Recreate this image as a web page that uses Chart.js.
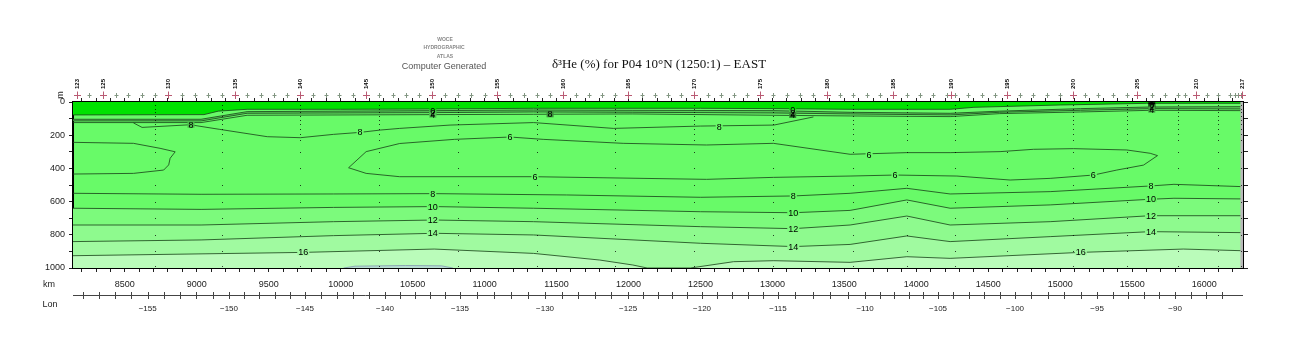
<!DOCTYPE html>
<html>
<head>
<meta charset="utf-8">
<script src="https://cdn.jsdelivr.net/npm/chart.js@4.4.1/dist/chart.umd.min.js"></script>
<style>
  html, body { margin: 0; padding: 0; background: #fff; }
</style>
</head>
<body>
<canvas id="grafico" width="1300" height="350"></canvas>
<script>
// contour lines as [distance km, depth m]
const surfLayer = [[8140,78],[9050,76],[9150,55],[9350,44],[10000,44],[10650,42],[11340,38],[12500,38],[13010,40],[13540,44],[14235,44],[14400,32],[15000,18],[15600,8],[16270,8]];
const shallow1 = [[8140,104],[9030,104],[9350,58],[10650,52],[11340,48],[12030,50],[13010,52],[13540,62],[14235,68],[14580,55],[15140,40],[15630,30],[16270,28]];
const shallow2 = [[8140,114],[9030,114],[9350,68],[10650,64],[11340,60],[12030,62],[13010,66],[13540,72],[14235,78],[14580,62],[15140,50],[15630,40],[16270,42]];
const shallow3 = [[8140,124],[9030,124],[9350,80],[10650,76],[11340,74],[12030,72],[13010,80],[13540,84],[14235,88],[14580,70],[15140,60],[15630,50],[16270,52]];
const c8top = [[8560,126],[8620,153],[8955,137],[9160,165],[9490,209],[9720,215],[9950,195],[10135,183],[10275,169],[10410,159],[10760,139],[11340,124],[11895,159],[12500,145],[13010,139],[13285,90]];
const c6west = [[8140,243],[8560,249],[8745,279],[8850,300],[8815,339],[8805,379],[8770,410],[8560,430],[8140,434]];
const c6loop = [[10055,396],[10177,299],[10410,250],[10790,225],[11177,211],[11407,225],[11963,249],[12542,259],[13007,249],[13540,315],[13934,305],[14235,305],[14582,299],[14814,285],[15092,281],[15463,289],[15625,309],[15676,323],[15579,380],[15393,410],[15231,440],[14930,460],[14652,470],[14282,446],[13854,440],[13540,446],[13007,454],[12542,466],[11339,450],[10410,450],[10177,430],[10055,396]];
const c8 = [[8140,550],[9030,556],[9950,554],[10650,552],[11570,560],[12500,574],[13145,566],[13540,550],[13934,520],[14235,554],[14930,540],[15625,506],[15790,496],[16270,510]];
const c10 = [[8140,640],[9030,647],[9950,635],[10650,630],[11340,640],[12500,661],[13145,667],[13540,653],[13934,590],[14235,640],[14930,620],[15625,586],[15790,580],[16270,584]];
const c12 = [[8140,741],[9030,741],[9950,721],[10650,711],[11340,721],[12500,751],[13145,763],[13540,741],[13934,687],[14235,741],[14930,721],[15625,685],[16270,685]];
const c14 = [[8140,841],[9030,831],[9950,805],[10650,791],[11340,801],[12500,851],[13145,871],[13540,858],[13934,807],[14235,841],[14930,811],[15625,781],[16270,787]];
const c16 = [[8140,926],[9740,906],[10650,886],[11340,912],[11800,952],[12030,982],[12130,1000],[12430,1000],[12730,962],[13010,956],[13540,966],[13934,932],[14235,942],[15140,906],[15855,886],[16270,896]];
const c18 = [[10020,1000],[10100,989],[10450,985],[10700,987],[10780,1000]];

// contour value labels
const labelKm    = [8960, 10135, 10640, 10640, 10640, 10640, 10640, 10640, 10640, 9740, 11455, 11177, 11350, 12630, 13141, 13141, 13141, 13145, 13145, 13145, 13145, 13672, 13852, 15230, 15631, 15631, 15631, 15631, 15143, 15636, 15636, 15636];
const labelDepth = [137, 183, 55, 66, 77, 554, 630, 711, 791, 906, 74, 211, 450, 149, 50, 64, 78, 566, 667, 763, 871, 319, 440, 440, 506, 586, 685, 781, 906, 20, 32, 46];
const labelText  = ['8','8','0','2','4','8','10','12','14','16','8','6','6','8','0','2','4','8','10','12','14','6','6','6','8','10','12','14','16','0','2','4'];

// stations along the section (km)
const stationKm = [8166, 8253, 8346, 8439, 8524, 8617, 8710, 8802, 8895, 8988, 9080, 9172, 9266, 9351, 9444, 9537, 9625, 9717, 9810, 9898, 9991, 10084, 10176, 10269, 10362, 10454, 10547, 10633, 10725, 10818, 10909, 11001, 11089, 11180, 11271, 11362, 11453, 11543, 11634, 11726, 11817, 11908, 11999, 12091, 12182, 12274, 12366, 12458, 12549, 12640, 12731, 12823, 12914, 13007, 13099, 13191, 13284, 13378, 13470, 13563, 13656, 13748, 13841, 13934, 14026, 14118, 14212, 14241, 14269, 14362, 14455, 14547, 14628, 14721, 14813, 14906, 14999, 15087, 15173, 15265, 15369, 15462, 15536, 15636, 15729, 15821, 15868, 15944, 16018, 16099, 16181, 16215, 16238, 16255, 16262];
const bigStationKm = [8166, 8346, 8802, 9266, 9717, 10176, 10633, 11089, 11543, 11999, 12458, 12914, 13378, 13841, 14241, 14628, 15087, 15536, 15944, 16262];
const bigStationNo = ['123','125','130','135','140','145','150','155','160','165','170','175','180','185','190','195','200','205','210','217'];

// helium casts and their bottle depths
const castKm = [8710, 9172, 9717, 10269, 10818, 11362, 11908, 12458, 13007, 13563, 13934, 14269, 14628, 15087, 15462, 15821, 16099, 16255];
const bottleDepth = [20, 40, 60, 85, 110, 135, 160, 190, 230, 300, 400, 500, 600, 700, 800, 900, 990];

// axes
const kmLabels = [8500, 9000, 9500, 10000, 10500, 11000, 11500, 12000, 12500, 13000, 13500, 14000, 14500, 15000, 15500, 16000];
const depthLabels = [0, 200, 400, 600, 800, 1000];
const lonTicks = [-155, -150, -145, -140, -135, -130, -125, -120, -115, -110, -105, -100, -95, -90];
const lonTickKm = [8659, 9224, 9752, 10308, 10829, 11420, 11997, 12511, 13039, 13644, 14151, 14686, 15256, 15798];
const landKm = 16252;

const BODY = 'rgb(104,250,104)';
const BRIGHT = 'rgb(0,226,0)';
const DARKBAND = 'rgb(88,205,88)';
const BAND10 = 'rgb(124,250,124)';
const BAND12 = 'rgb(142,250,142)';
const BAND14 = 'rgb(160,250,160)';
const BAND16 = 'rgb(186,252,186)';
const BAND18 = 'rgb(184,222,210)';
const LINE = 'rgba(25,65,25,0.9)';

const kmMinor = [];
for (let v = 8200; v <= 16200; v += 100) kmMinor.push(v);
const depthMinor = [];
for (let v = 0; v <= 1000; v += 100) depthMinor.push(v);

const pts = arr => arr.map(([x, y]) => ({ x, y }));
const contour = (data, extra) => Object.assign({
    data: pts(data),
    borderColor: LINE,
    borderWidth: 0.9,
    pointRadius: 0,
    tension: 0,
    fill: false,
    order: 10
}, extra || {});

const datasets = [
    contour(surfLayer, { fill: { value: 0 }, backgroundColor: BRIGHT }),
    contour(shallow1),
    contour(shallow2, { fill: '-1', backgroundColor: DARKBAND }),
    contour(shallow3),
    contour(c8top),
    contour(c6west),
    contour(c6loop),
    contour(c8),
    contour(c10, { fill: { value: 1000 }, backgroundColor: BAND10, order: 6 }),
    contour(c12, { fill: { value: 1000 }, backgroundColor: BAND12, order: 5 }),
    contour(c14, { fill: { value: 1000 }, backgroundColor: BAND14, order: 4 }),
    contour(c16, { fill: { value: 1000 }, backgroundColor: BAND16, order: 3 }),
    contour(c18, { fill: { value: 1000 }, backgroundColor: BAND18, borderColor: 'rgba(120,140,170,0.8)', order: 2 })
];

function lonToKm(lon) {
    const n = lonTicks.length;
    let i = 0;
    if (lon <= lonTicks[0]) i = 0;
    else if (lon >= lonTicks[n - 1]) i = n - 2;
    else while (lon > lonTicks[i + 1]) i++;
    const t = (lon - lonTicks[i]) / (lonTicks[i + 1] - lonTicks[i]);
    return lonTickKm[i] + t * (lonTickKm[i + 1] - lonTickKm[i]);
}

const decor = {
    id: 'decor',
    beforeDraw(chart) {
        const { ctx, chartArea: a } = chart;
        ctx.save();
        ctx.fillStyle = BODY;
        ctx.fillRect(a.left, a.top, a.right - a.left, a.bottom - a.top);
        ctx.restore();
    },
    afterDatasetsDraw(chart) {
        const { ctx, chartArea: a } = chart;
        const xs = chart.scales.x, ys = chart.scales.y;
        ctx.save();
        // shaded strip at the eastern end
        const xl = xs.getPixelForValue(landKm);
        ctx.fillStyle = 'rgb(185,185,185)';
        ctx.fillRect(xl, a.top, a.right - xl, a.bottom - a.top);

        // bottle positions
        ctx.fillStyle = 'rgba(0,0,0,0.75)';
        castKm.forEach(km => {
            const px = Math.round(xs.getPixelForValue(km));
            bottleDepth.forEach(d => {
                ctx.fillRect(px, Math.round(ys.getPixelForValue(d)), 1, 1);
            });
        });

        // contour labels: break the line first, then write all values
        ctx.font = '9px "Liberation Sans", Arial, sans-serif';
        ctx.textAlign = 'center';
        ctx.textBaseline = 'middle';
        const placed = labelText.map((txt, i) => {
            const px = xs.getPixelForValue(labelKm[i]);
            const py = ys.getPixelForValue(labelDepth[i]);
            const w = ctx.measureText(txt).width;
            const c = ctx.getImageData(Math.round(px + w / 2 + 3), Math.round(py - 4), 1, 1).data;
            return { txt, px, py, w, bg: `rgb(${c[0]},${c[1]},${c[2]})` };
        });
        placed.forEach(p => {
            ctx.fillStyle = p.bg;
            ctx.fillRect(p.px - p.w / 2 - 1, p.py - 3, p.w + 2, 6);
        });
        ctx.fillStyle = '#000';
        placed.forEach(p => ctx.fillText(p.txt, p.px, p.py + 0.5));
        ctx.restore();
    },
    afterDraw(chart) {
        const { ctx, chartArea: a } = chart;
        const xs = chart.scales.x;
        ctx.save();

        // station crosses above the frame
        const yc = a.top - 7;
        ctx.lineWidth = 1;
        ctx.strokeStyle = 'rgb(130,150,130)';
        stationKm.forEach(km => {
            const px = Math.round(xs.getPixelForValue(km)) + 0.5;
            ctx.beginPath();
            ctx.moveTo(px - 2, yc + 0.5); ctx.lineTo(px + 2, yc + 0.5);
            ctx.moveTo(px, yc - 2); ctx.lineTo(px, yc + 3);
            ctx.stroke();
        });
        ctx.strokeStyle = 'rgb(185,90,115)';
        ctx.fillStyle = '#000';
        ctx.font = 'bold 6px "Liberation Sans", Arial, sans-serif';
        ctx.textAlign = 'center';
        ctx.textBaseline = 'middle';
        bigStationKm.forEach((km, i) => {
            const px = Math.round(xs.getPixelForValue(km)) + 0.5;
            ctx.beginPath();
            ctx.moveTo(px - 3.5, yc + 0.5); ctx.lineTo(px + 3.5, yc + 0.5);
            ctx.moveTo(px, yc - 3.5); ctx.lineTo(px, yc + 4);
            ctx.stroke();
            ctx.save();
            ctx.translate(px, a.top - 18);
            ctx.rotate(-Math.PI / 2);
            ctx.fillText(bigStationNo[i], 0, 0);
            ctx.restore();
        });

        // longitude axis
        const yl = 295.5;
        ctx.strokeStyle = '#444';
        ctx.beginPath();
        ctx.moveTo(a.left, yl); ctx.lineTo(a.right, yl);
        for (let lon = -159; lon <= -87; lon++) {
            const px = Math.round(xs.getPixelForValue(lonToKm(lon))) + 0.5;
            if (px < a.left || px > a.right) continue;
            ctx.moveTo(px, yl - 3.5); ctx.lineTo(px, yl + 3.5);
        }
        ctx.stroke();
        ctx.fillStyle = '#222';
        ctx.font = '8px "Liberation Sans", Arial, sans-serif';
        lonTicks.forEach((lon, i) => {
            ctx.fillText('\u2212' + Math.abs(lon), xs.getPixelForValue(lonTickKm[i]), 309);
        });

        // axis names
        ctx.font = '9px "Liberation Sans", Arial, sans-serif';
        ctx.fillText('km', 49, 284.5);
        ctx.fillText('Lon', 50, 305);
        ctx.save();
        ctx.translate(60.5, 95);
        ctx.rotate(-Math.PI / 2);
        ctx.fillText('m', 0, 0);
        ctx.restore();

        // headings
        ctx.fillStyle = '#888';
        ctx.font = 'bold 5px "Liberation Sans", Arial, sans-serif';
        ctx.fillText('WOCE', 445, 40);
        ctx.fillText('HYDROGRAPHIC', 444, 48);
        ctx.fillText('ATLAS', 445, 57);
        ctx.fillStyle = '#555';
        ctx.font = '9px "Liberation Sans", Arial, sans-serif';
        ctx.fillText('Computer Generated', 444, 67);
        ctx.fillStyle = '#111';
        ctx.font = '13px "Liberation Serif", "Times New Roman", serif';
        ctx.fillText('\u03b4\u00b3He (%) for P04 10\u00b0N (1250:1) \u2013 EAST', 659, 65);
        ctx.restore();
    }
};

const tickFont = { family: '"Liberation Sans", Arial, sans-serif', size: 9 };

new Chart(document.getElementById('grafico').getContext('2d'), {
    type: 'line',
    data: { datasets: datasets },
    plugins: [decor],
    options: {
        responsive: false,
        animation: false,
        events: [],
        layout: { padding: 0 },
        plugins: {
            legend: { display: false },
            tooltip: { enabled: false },
            title: { display: false }
        },
        scales: {
            x: {
                type: 'linear', position: 'bottom', min: 8140, max: 16270, z: 1,
                afterBuildTicks: s => { s.ticks = kmMinor.map(value => ({ value })); },
                afterFit: s => { s.height = 82; },
                grid: { drawOnChartArea: false, tickLength: 4, color: '#222' },
                border: { color: '#000', width: 2 },
                ticks: {
                    autoSkip: false, maxRotation: 0, padding: 7, color: '#222', font: tickFont,
                    callback: v => kmLabels.includes(v) ? String(v) : ''
                }
            },
            xTop: {
                type: 'linear', position: 'top', min: 8140, max: 16270, z: 1,
                afterBuildTicks: s => { s.ticks = kmMinor.map(value => ({ value })); },
                afterFit: s => { s.height = 102; },
                grid: { drawOnChartArea: false, tickLength: 4, color: '#222' },
                border: { color: '#000', width: 1.5 },
                ticks: { display: false }
            },
            y: {
                type: 'linear', position: 'left', reverse: true, min: 0, max: 1000, z: 1,
                afterBuildTicks: s => { s.ticks = depthMinor.map(value => ({ value })); },
                afterFit: s => { s.width = 73; },
                grid: { drawOnChartArea: false, tickLength: 4, color: '#222' },
                border: { color: '#000', width: 2 },
                ticks: {
                    autoSkip: false, padding: 4, color: '#222', font: tickFont,
                    callback: v => depthLabels.includes(v) ? String(v) : ''
                }
            },
            yRight: {
                type: 'linear', position: 'right', reverse: true, min: 0, max: 1000, z: 1,
                afterBuildTicks: s => { s.ticks = depthMinor.map(value => ({ value })); },
                afterFit: s => { s.width = 57; },
                grid: { drawOnChartArea: false, tickLength: 5, color: '#222' },
                border: { color: '#000', width: 2 },
                ticks: { display: false }
            }
        }
    }
});
</script>
</body>
</html>
